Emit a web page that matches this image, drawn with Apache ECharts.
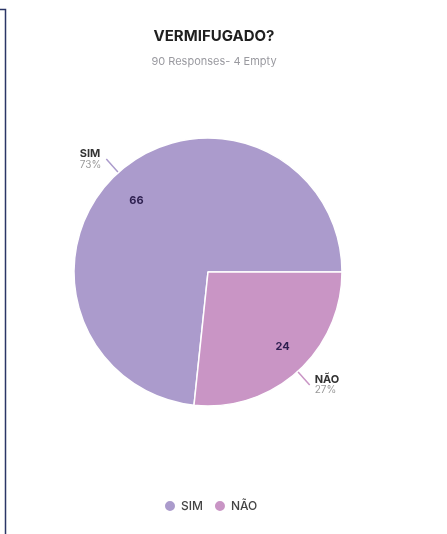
<!DOCTYPE html>
<html>
<head>
<meta charset="utf-8">
<script src="https://cdn.jsdelivr.net/npm/echarts@6/dist/echarts.min.js"></script>
<style>
html,body{margin:0;padding:0;background:#fff;}
#chart{width:447px;height:534px;}
</style>
</head>
<body>
<div id="chart"></div>
<script>
const categories = ['SIM', 'NÃO'];
const values = [66, 24];
const colors = ['#ab9bcc', '#c995c5'];
const titleText = 'VERMIFUGADO?';
const subtitleText = '90 Responses- 4 Empty';

const data = categories.map((c, i) => ({ name: c, value: values[i], itemStyle: { color: colors[i] } }));
const innerOffsets = [[0, 8], [3, -5]];

const chart = echarts.init(document.getElementById('chart'));
chart.setOption({
  backgroundColor: '#ffffff',
  animation: false,
  title: {
    text: titleText,
    subtext: subtitleText,
    left: 209,
    textAlign: 'center',
    top: 24,
    itemGap: 12,
    textStyle: { fontFamily: 'Inter', fontSize: 15, fontWeight: 'bold', color: '#1f1f1f' },
    subtextStyle: { fontFamily: 'Inter', fontSize: 11, color: '#9a9aa0' }
  },
  legend: {
    data: categories,
    bottom: 16,
    left: 158,
    icon: 'circle',
    itemWidth: 12,
    itemHeight: 12,
    itemGap: 10,
    textStyle: { fontFamily: 'Inter', fontSize: 12, color: '#444', fontWeight: 500 }
  },
  graphic: [
    { type: 'polyline', shape: { points: [[0, 9.5], [5.5, 9.5], [5.5, 534]] }, style: { stroke: '#2b3666', lineWidth: 1.5, fill: null } }
  ],
  series: [
    {
      type: 'pie',
      center: [208, 272],
      radius: [0, 134],
      startAngle: -96,
      clockwise: true,
      data: data,
      itemStyle: { borderColor: '#ffffff', borderWidth: 1.5 },
      label: {
        show: true,
        position: 'outside',
        formatter: p => '{n|' + p.name + '}\n{p|' + Math.round(p.percent) + '%}',
        alignTo: 'none',
        rich: {
          n: { fontFamily: 'Inter', fontSize: 11, fontWeight: 'bold', color: '#333', lineHeight: 11, align: 'left' },
          p: { fontFamily: 'Inter', fontSize: 10, color: '#9a9a9a', lineHeight: 10, align: 'left' }
        }
      },
      labelLine: { show: true, length: 18, length2: 0, lineStyle: { width: 1.5 } },
      emphasis: { disabled: true }
    },
    {
      type: 'pie',
      center: [208, 272],
      radius: [74, 134],
      startAngle: -96,
      clockwise: true,
      silent: true,
      data: categories.map((c, i) => ({ name: c, value: values[i], label: { offset: innerOffsets[i] } })),
      itemStyle: { color: 'rgba(0,0,0,0)' },
      label: {
        show: true,
        position: 'inside',
        formatter: '{c}',
        fontFamily: 'Inter',
        fontSize: 11,
        fontWeight: 'bold',
        color: '#2d1f4f'
      },
      labelLine: { show: false },
      emphasis: { disabled: true }
    }
  ]
});
</script>
</body>
</html>
